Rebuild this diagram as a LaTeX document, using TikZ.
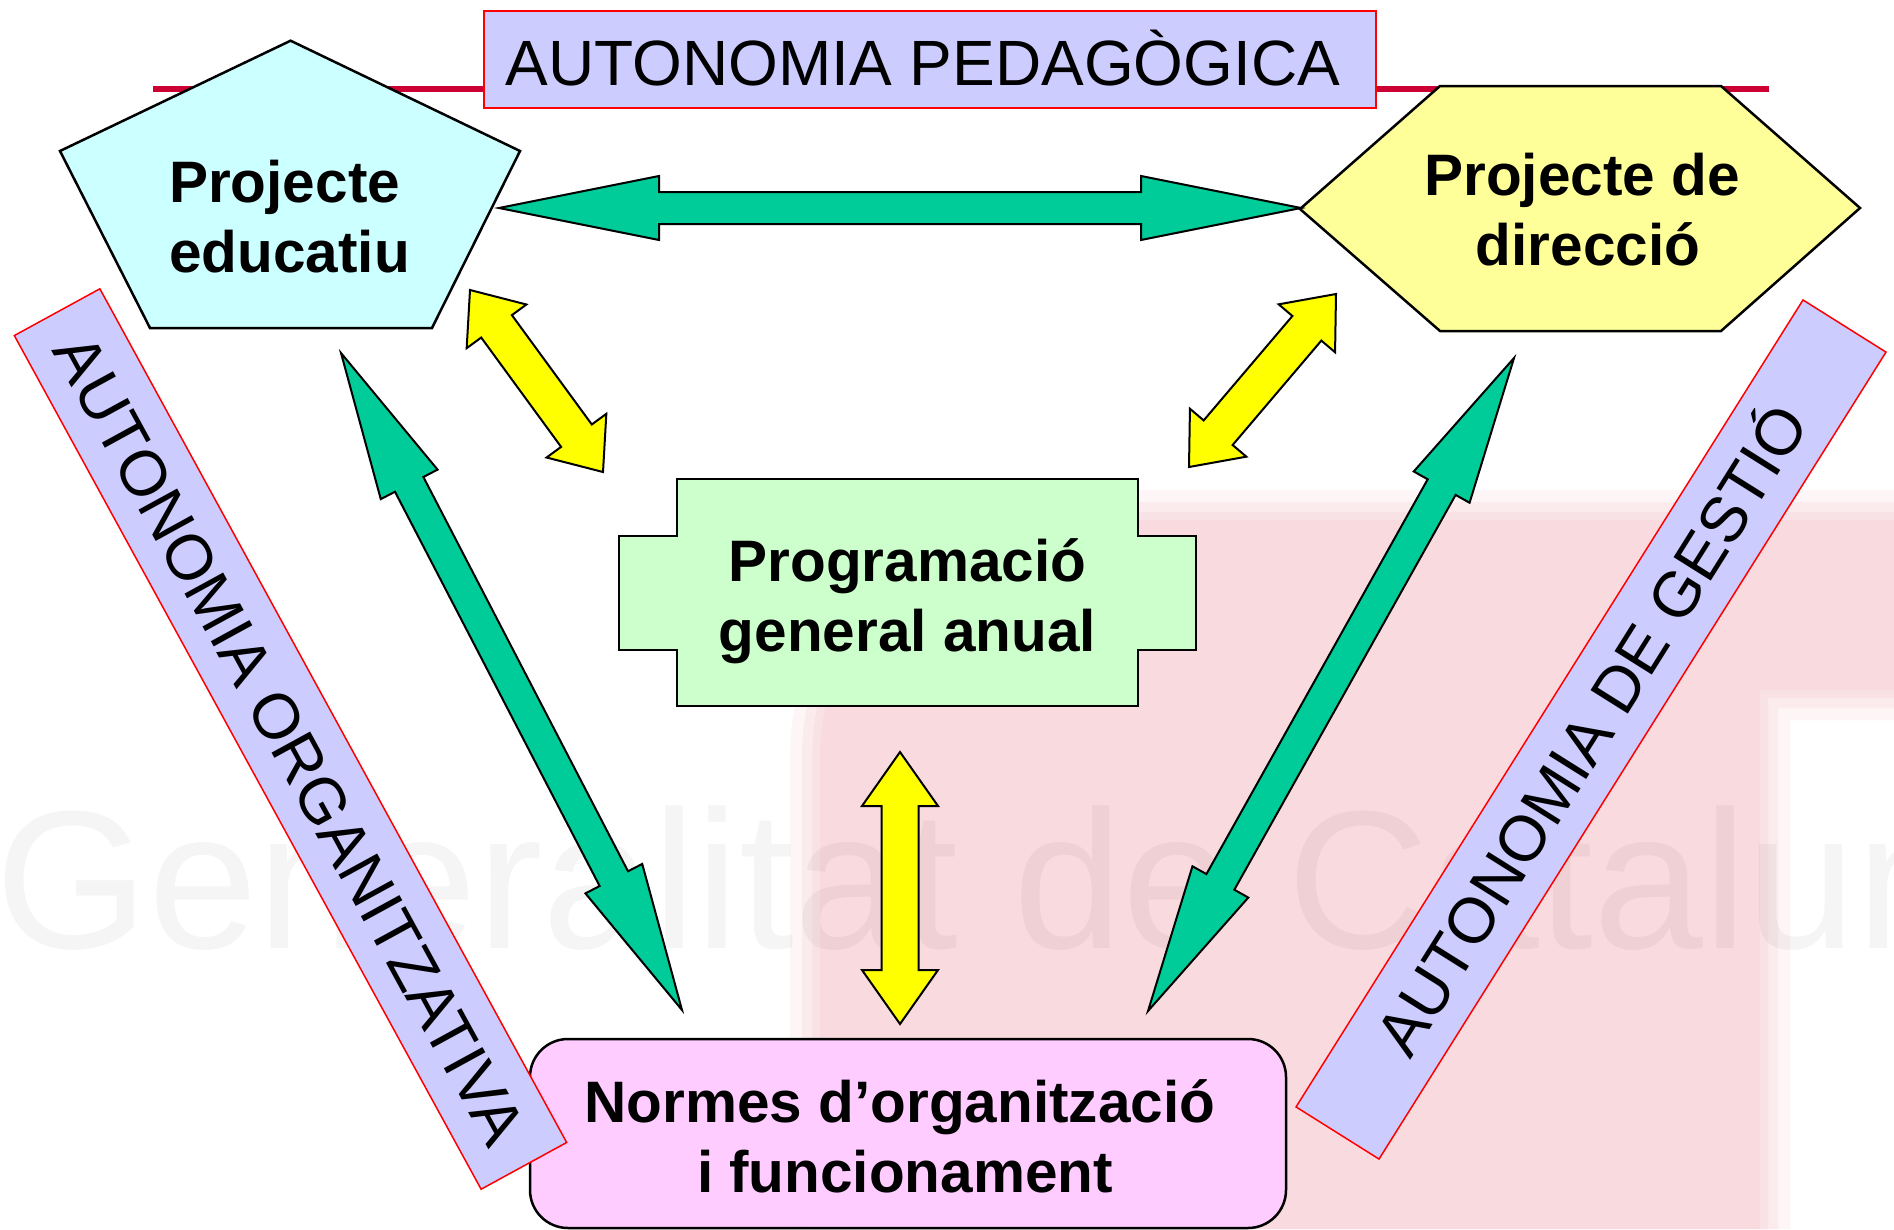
\documentclass[tikz,border=0pt]{standalone}
\usepackage{fontspec}
\setmainfont{Liberation Sans}
\usetikzlibrary{calc}
\definecolor{lav}{RGB}{204,204,255}
\definecolor{crimsonline}{RGB}{204,0,51}
\definecolor{pentfill}{RGB}{204,255,255}
\definecolor{hexfill}{RGB}{255,255,153}
\definecolor{crossfill}{RGB}{204,255,204}
\definecolor{pinkbox}{RGB}{255,204,255}
\definecolor{arrgreen}{RGB}{0,204,153}
\definecolor{arryellow}{RGB}{255,255,0}
\definecolor{wmpink}{RGB}{249,218,222}
\definecolor{bandred}{RGB}{255,0,0}

% double block arrow between two named coordinates
% #1 from, #2 to, #3 head length, #4 head half width, #5 shaft half width, #6 style
\newcommand\dblarrow[6]{%
  \coordinate (ha) at ($(#1)!#3!(#2)$);
  \coordinate (hb) at ($(#2)!#3!(#1)$);
  \filldraw[#6] (#1) -- ($(ha)!#4!90:(#2)$) -- ($(ha)!#5!90:(#2)$)
    -- ($(hb)!#5!-90:(#1)$) -- ($(hb)!#4!-90:(#1)$) -- (#2)
    -- ($(hb)!#4!90:(#1)$) -- ($(hb)!#5!90:(#1)$)
    -- ($(ha)!#5!-90:(#2)$) -- ($(ha)!#4!-90:(#2)$) -- cycle;
}

\begin{document}
\begin{tikzpicture}[x=1pt,y=-1pt,
  shapeline/.style={draw=black, line width=2.5pt, line join=miter},
  greenarr/.style={draw=black, fill=arrgreen, line width=2pt, line join=miter},
  yellowarr/.style={draw=black, fill=arryellow, line width=2pt, line join=miter},
  boldtext/.style={font=\fontsize{58.5}{70}\selectfont\bfseries, align=center, inner sep=0pt, anchor=north},
  band/.style={draw=bandred, fill=lav, line width=1.5pt, inner sep=0pt,
    font=\fontsize{64}{77}\selectfont, text height=46pt, text depth=0pt},
  titlebox/.style={draw=bandred, fill=lav, line width=2pt, inner sep=0pt,
    minimum width=892pt, minimum height=97pt,
    font=\fontsize{64}{77}\selectfont, text height=51pt, text depth=0pt}]

\useasboundingbox (0,0) rectangle (1894,1229);
\fill[white] (0,0) rectangle (1894,1229);

% faint watermark (soft-edged pink logo and pale lettering)
\foreach \w/\o in {60/0.25, 36/0.35, 16/0.5}{
  \draw[wmpink, line width=\w pt, opacity=\o, line join=round]
    (820,1229) -- (820,760) .. controls (820,600) and (950,520) .. (1150,520)
    -- (1894,520) -- (1894,690) -- (1760,690) -- (1760,1229);
}
\fill[wmpink] (820,1229) -- (820,760) .. controls (820,600) and (950,520) .. (1150,520)
  -- (1894,520) -- (1894,690) -- (1760,690) -- (1760,1229) -- cycle;
\node[anchor=base west, inner sep=0pt, font=\fontsize{197}{200}\selectfont,
  text=black, text opacity=0.04] (wm) at (-5,948) {Generalitat de Catalunya};

% red rule behind the title
\coordinate (rule-w) at (153,89);
\coordinate (rule-e) at (1769,89);
\draw[crimsonline, line width=6pt] (rule-w) -- (rule-e);

% title
\node[titlebox] (title) at (930,59.5) {AUTONOMIA PEDAGÒGICA\hspace*{14pt}};

% shapes
\draw[shapeline, fill=pentfill] (290.6,40.7) -- (520,151) -- (432,328) -- (150,328) -- (60,151) -- cycle;
\node[boldtext, align=left, anchor=north west] (pe) at (169,152) {\rule{0pt}{50pt}Projecte\\educatiu};

\draw[shapeline, fill=hexfill] (1300,209) -- (1440,86) -- (1721,86) -- (1860,208) -- (1721,331) -- (1440,331) -- cycle;
\node[boldtext] (hx) at (1582,145) {\rule{0pt}{50pt}Projecte de\\\hspace*{12pt}direcció};

\draw[shapeline, fill=crossfill] (677,479) -- (1138,479) -- (1138,536) -- (1196,536) -- (1196,650)
  -- (1138,650) -- (1138,706) -- (677,706) -- (677,650) -- (619,650) -- (619,536) -- (677,536) -- cycle;
\node[boldtext] (pg) at (907.5,531) {\rule{0pt}{50pt}Programació\\general anual};

\draw[shapeline, fill=pinkbox, rounded corners=38pt] (530,1039) rectangle (1286,1228);
\node[boldtext] (no) at (905,1072) {\rule{0pt}{50pt}Normes d’organització\hspace*{10pt}\\i funcionament};

% arrow end points
\coordinate (pe-e) at (499,208);
\coordinate (hx-w) at (1301,208);
\coordinate (pe-s) at (341,353);
\coordinate (no-nw) at (682,1010);
\coordinate (hx-s) at (1514,358);
\coordinate (no-ne) at (1148,1011);
\coordinate (pe-se) at (470,290);
\coordinate (pg-nw) at (603,472);
\coordinate (hx-sw) at (1336,294);
\coordinate (pg-ne) at (1189,467);
\coordinate (pg-s) at (900,752);
\coordinate (no-n) at (900,1024);

% arrows
\dblarrow{pe-e}{hx-w}{160pt}{32pt}{16pt}{greenarr}
\dblarrow{pe-s}{no-nw}{148pt}{32pt}{16pt}{greenarr}
\dblarrow{hx-s}{no-ne}{148pt}{32pt}{16pt}{greenarr}
\dblarrow{pe-se}{pg-nw}{45pt}{37pt}{19pt}{yellowarr}
\dblarrow{hx-sw}{pg-ne}{45pt}{37pt}{19pt}{yellowarr}
\dblarrow{pg-s}{no-n}{54pt}{38pt}{18.5pt}{yellowarr}

% side bands
\node[band, minimum width=973pt, minimum height=97.5pt, rotate=-61.33] (org) at (290.5,739) {AUTONOMIA ORGANITZATIVA};
\node[band, minimum width=953pt, minimum height=98pt, rotate=57.86] (ges) at (1591,729.5) {AUTONOMIA DE GESTIÓ};

\end{tikzpicture}
\end{document}
